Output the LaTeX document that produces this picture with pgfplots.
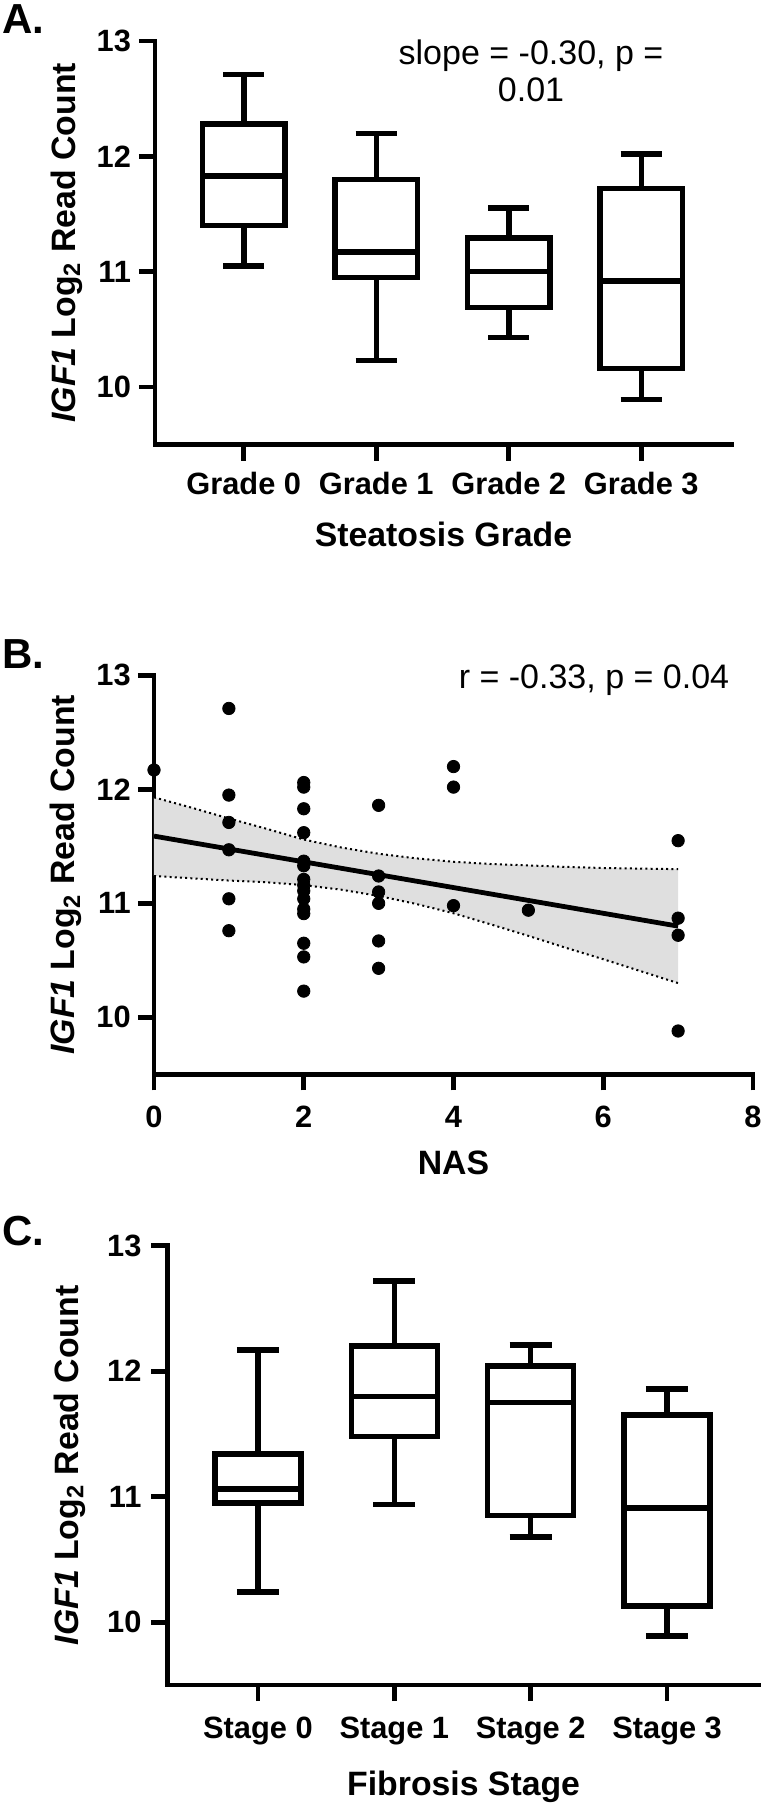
\documentclass[border=0pt]{standalone}
\usepackage{fontspec}
\setmainfont{Liberation Sans}
\usepackage{pgfplots}
\pgfplotsset{compat=1.18}
\definecolor{bandgray}{HTML}{DFDFDF}
\newcommand{\labf}{\bfseries\fontsize{16.9}{20}\selectfont}
\newcommand{\tickf}{\bfseries\fontsize{15.4}{18}\selectfont}
\newcommand{\annf}{\fontsize{17}{18.75}\selectfont}
\newcommand{\panf}{\bfseries\fontsize{21}{24}\selectfont}
\pgfplotsset{
  myaxis/.style={
    scale only axis, anchor=south west, clip=false,
    line width=2.3pt,
    axis x line*=bottom, axis y line*=left,
    axis line style={line width=2.3pt, line cap=rect, black},
    every outer x axis line/.append style={line width=2.3pt, line cap=rect},
    every outer y axis line/.append style={line width=2.3pt, line cap=rect},
    tick align=outside, major tick length=8pt,
    major tick style={line width=2.3pt, black},
    tick label style={font=\tickf},
    yticklabel style={anchor=east, inner xsep=0pt},
    xticklabel style={anchor=base},
    /pgf/number format/assume math mode=true,
    ymin=9.5, ymax=13, ytick={10,11,12,13},
    ylabel={\textit{IGF1} Log\textsubscript{2} Read Count},
    label style={font=\labf},
  },
  bx/.style={black, line width=2.75pt, solid, line join=miter, mark=none},
  wk/.style={black, line width=2.75pt, solid, mark=none, unbounded coords=jump},
}
\begin{document}
\begin{tikzpicture}
\useasboundingbox (0,0) rectangle (380pt,-901.5pt);
% ---------------- A ----------------
\begin{axis}[myaxis, at={(77.5pt,-222.3pt)}, width=288.5pt, height=201.8pt,
  xmin=-0.670, xmax=3.685, xtick={0,1,2,3},
  xticklabels={Grade 0,Grade 1,Grade 2,Grade 3},
  xticklabel style={yshift=-16.7pt},
  yticklabel style={xshift=-2.85pt},
  xlabel={Steatosis Grade},
  xlabel style={at={(axis description cs:0.5,-0.2524)}, anchor=base},
  ylabel style={at={(axis description cs:-0.1386,0.5)}, anchor=base}]
% Grade 0
\addplot[bx] coordinates {(-0.31,11.40) (0.31,11.40) (0.31,12.28) (-0.31,12.28)} -- cycle;
\addplot[wk] coordinates {(-0.155,12.71) (0.155,12.71) (nan,nan) (0,12.71) (0,12.28) (nan,nan) (-0.31,11.83) (0.31,11.83) (nan,nan) (0,11.40) (0,11.05) (nan,nan) (-0.155,11.05) (0.155,11.05)};
% Grade 1
\addplot[bx] coordinates {(0.69,10.95) (1.31,10.95) (1.31,11.80) (0.69,11.80)} -- cycle;
\addplot[wk] coordinates {(0.845,12.20) (1.155,12.20) (nan,nan) (1,12.20) (1,11.80) (nan,nan) (0.69,11.17) (1.31,11.17) (nan,nan) (1,10.95) (1,10.23) (nan,nan) (0.845,10.23) (1.155,10.23)};
% Grade 2
\addplot[bx] coordinates {(1.69,10.69) (2.31,10.69) (2.31,11.29) (1.69,11.29)} -- cycle;
\addplot[wk] coordinates {(1.845,11.55) (2.155,11.55) (nan,nan) (2,11.55) (2,11.29) (nan,nan) (1.69,11.00) (2.31,11.00) (nan,nan) (2,10.69) (2,10.43) (nan,nan) (1.845,10.43) (2.155,10.43)};
% Grade 3
\addplot[bx] coordinates {(2.69,10.16) (3.31,10.16) (3.31,11.72) (2.69,11.72)} -- cycle;
\addplot[wk] coordinates {(2.845,12.02) (3.155,12.02) (nan,nan) (3,12.02) (3,11.72) (nan,nan) (2.69,10.92) (3.31,10.92) (nan,nan) (3,10.16) (3,9.89) (nan,nan) (2.845,9.89) (3.155,9.89)};
\end{axis}
\node[anchor=base west, font=\panf, inner sep=0pt] at (0.85pt,-16.65pt) {A.};
\node[anchor=base, font=\annf, inner sep=0pt] at (265.5pt,-32.15pt) {slope = -0.30, p =};
\node[anchor=base, font=\annf, inner sep=0pt] at (265.5pt,-50.9pt) {0.01};
% ---------------- B ----------------
\begin{axis}[myaxis, at={(77pt,-537.15pt)}, width=299.5pt, height=199.45pt,
  xmin=0, xmax=8, xtick={0,2,4,6,8},
  xticklabel style={yshift=-18.7pt},
  yticklabel style={xshift=-2.5pt},
  xlabel={NAS},
  xlabel style={at={(axis description cs:0.5,-0.2524)}, anchor=base},
  ylabel style={at={(axis description cs:-0.1319,0.5)}, anchor=base}]
\addplot[fill=bandgray, draw=none] coordinates {
 (0,11.93) (0.5,11.84) (1,11.745) (1.5,11.655) (2,11.56) (2.5,11.49) (3,11.435) (3.5,11.395) (4,11.365) (4.5,11.345) (5,11.333) (5.5,11.32) (6,11.31) (6.5,11.305) (7,11.30)
 (7,10.30) (6.5,10.405) (6,10.51) (5.5,10.61) (5,10.715) (4.5,10.815) (4,10.913) (3.5,10.995) (3,11.065) (2.5,11.12) (2,11.16) (1.5,11.185) (1,11.20) (0.5,11.22) (0,11.24)};
\addplot[black, line width=1pt, dash pattern=on 1pt off 1.6pt] coordinates {
 (0,11.93) (0.5,11.84) (1,11.745) (1.5,11.655) (2,11.56) (2.5,11.49) (3,11.435) (3.5,11.395) (4,11.365) (4.5,11.345) (5,11.333) (5.5,11.32) (6,11.31) (6.5,11.305) (7,11.30)};
\addplot[black, line width=1pt, dash pattern=on 1pt off 1.6pt] coordinates {
 (0,11.24) (0.5,11.22) (1,11.20) (1.5,11.185) (2,11.16) (2.5,11.12) (3,11.065) (3.5,10.995) (4,10.913) (4.5,10.815) (5,10.715) (5.5,10.61) (6,10.51) (6.5,10.405) (7,10.30)};
\addplot[black, line width=2.4pt] coordinates {(0,11.59) (7,10.80)};
\addplot[only marks, mark=*, mark size=3.1pt, black, mark options={solid, line width=0.4pt}] coordinates {
 (0,12.17)
 (1,12.71) (1,11.95) (1,11.71) (1,11.47) (1,11.04) (1,10.76)
 (2,12.06) (2,12.02) (2,11.83) (2,11.62) (2,11.37) (2,11.33) (2,11.21) (2,11.16) (2,11.11) (2,11.04) (2,10.95) (2,10.91) (2,10.65) (2,10.53) (2,10.23)
 (3,11.86) (3,11.24) (3,11.10) (3,11.00) (3,10.67) (3,10.43)
 (4,12.20) (4,12.02) (4,10.98)
 (5,10.94)
 (7,11.55) (7,10.87) (7,10.72) (7,9.88)};
\end{axis}
\node[anchor=base west, font=\panf, inner sep=0pt] at (0.85pt,-334pt) {B.};
\node[anchor=base, font=\annf, inner sep=0pt] at (297pt,-344.3pt) {r = -0.33, p = 0.04};
% ---------------- C ----------------
\begin{axis}[myaxis, at={(83.6pt,-842.5pt)}, width=296.4pt, height=219.65pt,
  xmin=-0.665, xmax=3.681, xtick={0,1,2,3},
  xticklabels={Stage 0,Stage 1,Stage 2,Stage 3},
  xticklabel style={yshift=-18.65pt},
  yticklabel style={xshift=-3.7pt},
  xlabel={Fibrosis Stage},
  xlabel style={at={(axis description cs:0.5,-0.2504)}, anchor=base},
  ylabel style={at={(axis description cs:-0.15,0.5)}, anchor=base}]
% Stage 0
\addplot[bx] coordinates {(-0.315,10.95) (0.315,10.95) (0.315,11.34) (-0.315,11.34)} -- cycle;
\addplot[wk] coordinates {(-0.155,12.17) (0.155,12.17) (nan,nan) (0,12.17) (0,11.34) (nan,nan) (-0.315,11.06) (0.315,11.06) (nan,nan) (0,10.95) (0,10.24) (nan,nan) (-0.155,10.24) (0.155,10.24)};
% Stage 1
\addplot[bx] coordinates {(0.685,11.48) (1.315,11.48) (1.315,12.20) (0.685,12.20)} -- cycle;
\addplot[wk] coordinates {(0.845,12.72) (1.155,12.72) (nan,nan) (1,12.72) (1,12.20) (nan,nan) (0.685,11.80) (1.315,11.80) (nan,nan) (1,11.48) (1,10.94) (nan,nan) (0.845,10.94) (1.155,10.94)};
% Stage 2
\addplot[bx] coordinates {(1.685,10.85) (2.315,10.85) (2.315,12.04) (1.685,12.04)} -- cycle;
\addplot[wk] coordinates {(1.845,12.21) (2.155,12.21) (nan,nan) (2,12.21) (2,12.04) (nan,nan) (1.685,11.75) (2.315,11.75) (nan,nan) (2,10.85) (2,10.68) (nan,nan) (1.845,10.68) (2.155,10.68)};
% Stage 3
\addplot[bx] coordinates {(2.685,10.13) (3.315,10.13) (3.315,11.65) (2.685,11.65)} -- cycle;
\addplot[wk] coordinates {(2.845,11.86) (3.155,11.86) (nan,nan) (3,11.86) (3,11.65) (nan,nan) (2.685,10.91) (3.315,10.91) (nan,nan) (3,10.13) (3,9.89) (nan,nan) (2.845,9.89) (3.155,9.89)};
\end{axis}
\node[anchor=base west, font=\panf, inner sep=0pt] at (0.85pt,-622.5pt) {C.};
\end{tikzpicture}
\end{document}
